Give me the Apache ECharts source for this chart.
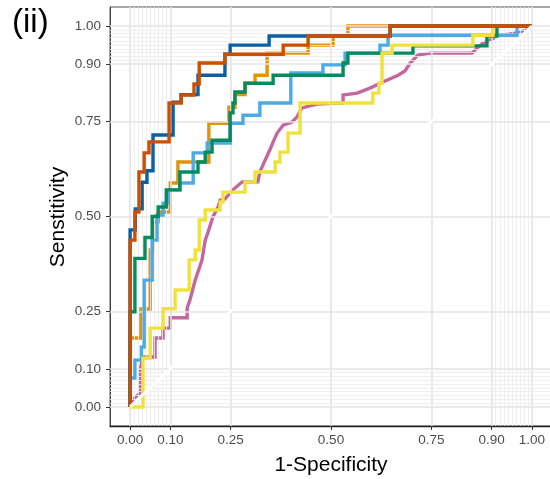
<!DOCTYPE html>
<html><head><meta charset="utf-8">
<script src="https://cdn.jsdelivr.net/npm/echarts@6/dist/echarts.min.js"></script>
<style>html,body{margin:0;padding:0;background:#fff}#c{width:550px;height:479px}</style>
</head><body><div id="c"></div>
<script>
// ---- data ----
const tickValues = [0, 0.1, 0.25, 0.5, 0.75, 0.9, 1];
const minorValues = [0.01,0.02,0.03,0.04,0.05,0.06,0.07,0.08,0.09,0.91,0.92,0.93,0.94,0.95,0.96,0.97,0.98,0.99];
const xTitle = '1-Specificity';
const yTitle = 'Senstitivity';
const panelTag = '(ii)';

// ROC step points (end of each vertical run)
const redFpr = [0, 0, 0.012, 0.022, 0.035, 0.047, 0.097, 0.127, 0.159, 0.172, 0.236, 0.381, 0.443, 0.647, 1];
const redTpr = [0, 0.438, 0.512, 0.617, 0.667, 0.696, 0.798, 0.819, 0.848, 0.903, 0.926, 0.950, 0.974, 1, 1];
const blueFpr = [0, 0, 0.013, 0.030, 0.042, 0.057, 0.107, 0.127, 0.169, 0.236, 0.249, 0.346, 0.647, 1];
const blueTpr = [0, 0.465, 0.52, 0.59, 0.62, 0.714, 0.80, 0.82, 0.871, 0.926, 0.95, 0.974, 1, 1];
const orangeFpr = [0, 0, 0.027, 0.05, 0.057, 0.07, 0.1, 0.119, 0.196, 0.246, 0.261, 0.286, 0.311, 0.341, 0.443, 0.505, 0.542, 1];
const orangeTpr = [0, 0.181, 0.257, 0.412, 0.486, 0.512, 0.588, 0.643, 0.745, 0.787, 0.82, 0.85, 0.871, 0.929, 0.95, 0.974, 1, 1];
const greenFpr = [0, 0, 0.012, 0.037, 0.055, 0.07, 0.09, 0.124, 0.169, 0.187, 0.204, 0.249, 0.256, 0.261, 0.286, 0.356, 0.530, 0.542, 0.704, 0.888, 0.913, 1];
const greenTpr = [0, 0.25, 0.39, 0.445, 0.50, 0.525, 0.57, 0.617, 0.643, 0.669, 0.70, 0.772, 0.798, 0.827, 0.85, 0.871, 0.903, 0.929, 0.948, 0.974, 1, 1];
const skyFpr = [0, 0, 0.012, 0.028, 0.035, 0.055, 0.067, 0.082, 0.095, 0.124, 0.157, 0.192, 0.249, 0.281, 0.323, 0.40, 0.48, 0.535, 0.622, 0.642, 0.963, 1];
const skyTpr = [0, 0.076, 0.123, 0.157, 0.333, 0.438, 0.504, 0.535, 0.57, 0.588, 0.667, 0.693, 0.745, 0.766, 0.798, 0.877, 0.898, 0.929, 0.95, 0.976, 1, 1];
const yellowFpr = [0, 0.032, 0.05, 0.082, 0.112, 0.147, 0.162, 0.172, 0.187, 0.224, 0.231, 0.286, 0.311, 0.361, 0.373, 0.393, 0.423, 0.604, 0.619, 0.627, 0.652, 0.853, 0.903, 1];
const yellowTpr = [0, 0.128, 0.207, 0.258, 0.307, 0.386, 0.412, 0.491, 0.517, 0.538, 0.564, 0.591, 0.617, 0.643, 0.669, 0.719, 0.798, 0.824, 0.850, 0.929, 0.950, 0.976, 1, 1];
// this curve is drawn as a polyline
const pinkFpr = [0, 0.012, 0.025, 0.025, 0.032, 0.062, 0.062, 0.082, 0.082, 0.1, 0.1, 0.142, 0.142, 0.149, 0.162, 0.179, 0.187, 0.194, 0.206, 0.219, 0.224, 0.236, 0.256, 0.279, 0.318, 0.323, 0.336, 0.348, 0.356, 0.366, 0.381, 0.403, 0.415, 0.428, 0.465, 0.530, 0.530, 0.565, 0.597, 0.629, 0.667, 0.684, 0.697, 0.716, 0.746, 0.851, 0.863, 0.878, 0.896, 0.913, 0.963, 0.988, 1];
const pinkTpr = [0, 0.024, 0.037, 0.097, 0.131, 0.131, 0.181, 0.181, 0.207, 0.207, 0.234, 0.234, 0.26, 0.281, 0.333, 0.386, 0.438, 0.459, 0.499, 0.525, 0.543, 0.546, 0.570, 0.591, 0.591, 0.617, 0.648, 0.675, 0.696, 0.719, 0.740, 0.748, 0.761, 0.785, 0.795, 0.798, 0.819, 0.824, 0.837, 0.853, 0.871, 0.882, 0.903, 0.924, 0.929, 0.929, 0.942, 0.955, 0.963, 0.974, 0.982, 0.990, 1];
const diagX = [0, 1];
const diagY = [0, 1];

// ---- styles ----
const FONT = 'Liberation Sans, Arial, sans-serif';
const zip = (a, b) => a.map((v, i) => [v, b[i]]);
const curves = [
  {name: 'Curve 7', fpr: pinkFpr, tpr: pinkTpr, color: '#c4669f', step: false},
  {name: 'Curve 3', fpr: orangeFpr, tpr: orangeTpr, color: '#e3920a', step: 'end'},
  {name: 'Curve 5', fpr: skyFpr, tpr: skyTpr, color: '#4cabe4', step: 'end'},
  {name: 'Curve 4', fpr: greenFpr, tpr: greenTpr, color: '#068b5e', step: 'end'},
  {name: 'Curve 6', fpr: yellowFpr, tpr: yellowTpr, color: '#efe23a', step: 'end'},
  {name: 'Curve 1', fpr: blueFpr, tpr: blueTpr, color: '#0b5fa3', step: 'end'},
  {name: 'Curve 2', fpr: redFpr, tpr: redTpr, color: '#cc4e00', step: 'end'}
];
const major = {color: '#e4e4e4', width: 1.6, type: 'solid'};
const minor = {color: '#ebebeb', width: 0.8, type: 'solid'};
const gridLines = [
  ...tickValues.map(v => ({xAxis: v, lineStyle: major})),
  ...minorValues.map(v => ({xAxis: v, lineStyle: minor})),
  ...tickValues.map(v => ({yAxis: v, lineStyle: major})),
  ...minorValues.map(v => ({yAxis: v, lineStyle: minor}))
];

const axisCommon = (isX) => ({
  type: 'value', min: -0.05, max: 1.05,
  splitLine: {show: false},
  axisLine: {show: true, onZero: false, lineStyle: {color: isX ? '#222' : '#444', width: isX ? 1.3 : 1}},
  axisTick: {show: true, length: 4, customValues: tickValues, lineStyle: {color: '#333', width: 1}},
  axisLabel: {customValues: tickValues, formatter: v => Number(v).toFixed(2), color: '#4d4d4d',
    fontFamily: FONT, fontSize: 13.5, margin: isX ? 7 : 9}
});

const chart = echarts.init(document.getElementById('c'), null, {renderer: 'canvas'});
chart.setOption({
  animation: false,
  backgroundColor: '#ffffff',
  grid: {left: 110, top: 7, width: 442, height: 419, show: true, borderColor: '#555', borderWidth: 1,
    backgroundColor: 'transparent', containLabel: false, outerBoundsMode: 'none'},
  xAxis: axisCommon(true),
  yAxis: axisCommon(false),
  graphic: [
    {type: 'text', left: 12, top: 6, style: {text: panelTag, font: '33px ' + FONT, fill: '#000'}},
    {type: 'text', x: 331, y: 465, style: {text: xTitle, font: '21px ' + FONT, fill: '#000', align: 'center', verticalAlign: 'middle'}},
    {type: 'text', x: 58, y: 217, rotation: Math.PI / 2, style: {text: yTitle, font: '21px ' + FONT, fill: '#000', align: 'center', verticalAlign: 'middle'}}
  ],
  series: [
    {type: 'line', data: [], z: 1, silent: true,
      markLine: {silent: true, symbol: ['none', 'none'], label: {show: false}, emphasis: {disabled: true}, animation: false, data: gridLines}},
    ...curves.map((c, i) => ({
      type: 'line', name: c.name, data: zip(c.fpr, c.tpr), step: c.step,
      showSymbol: false, symbol: 'none', z: 3 + i, silent: true,
      lineStyle: {color: c.color, width: 3.4, join: 'miter', cap: 'butt'},
      itemStyle: {color: c.color}
    })),
    {type: 'line', name: 'diagonal', data: zip(diagX, diagY), showSymbol: false, symbol: 'none', z: 20, silent: true,
      lineStyle: {color: '#ffffff', width: 3}}
  ]
});
</script>
</body></html>
